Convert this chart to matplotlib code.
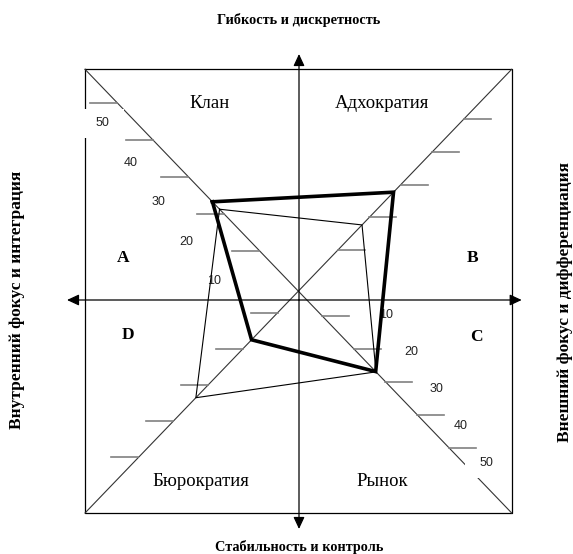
import numpy as np
import matplotlib.pyplot as plt
from matplotlib.patches import Rectangle

#_Data__________________________________________________________________________
# Diagonals in drawing order: top-left, top-right, bottom-right, bottom-left
quadrants = ['clan', 'adhocracy', 'market', 'hierarchy']
quadrant_names = ['Клан', 'Адхократия', 'Рынок', 'Бюрократия']
corner_letters = ['A', 'B', 'C', 'D']
scale_values = [10, 20, 30, 40, 50]
# Profiles (score on each diagonal)
profile_thick = [23.2, 27.7, 26.9, 17.5]
profile_thin = [21.2, 17.7, 27.0, 33.5]

axis_top = 'Гибкость и дискретность'
axis_bottom = 'Стабильность и контроль'
axis_left = 'Внутренний фокус и интеграция'
axis_right = 'Внешний фокус и дифференциация'

#_Layout (pixel units)__________________________________________________________
W, H = 573, 554
left, top, right, bottom = 85, 69.3, 511.7, 513
cx, cy = (left + right) / 2, (top + bottom) / 2
ratio = (right - left) / (bottom - top)
axis_x, axis_y = 299, 300
direction = {'clan': (-1, -1), 'adhocracy': (1, -1),
             'market': (1, 1), 'hierarchy': (-1, 1)}
# vertical distance from centre = offset + step * score
diag_scale = {'clan': (3.5, 3.7), 'adhocracy': (8.25, 3.275),
              'market': (-8.1, 3.29), 'hierarchy': (-14.7, 3.62)}
tick_len = 27
# number labels run along a line from score 10 to score 50
label_line = {'clan': ((214.5, 281.4), (102.9, 123.0)),
              'market': ((386.0, 315.2), (486.0, 463.0))}
mask_w, mask_h = 42, 29
name_pos = {'clan': (210, 104), 'adhocracy': (382, 104),
            'market': (382, 482), 'hierarchy': (201, 482)}
letter_pos = [(123, 258), (473, 258), (476, 337), (128, 335)]

serif = ['Liberation Serif', 'DejaVu Serif']
sans = ['Liberation Sans', 'DejaVu Sans']


def diag_point(q, v):
    off, step = diag_scale[q]
    d = off + step * v
    sx, sy = direction[q]
    return cx + sx * d * ratio, cy + sy * d


def label_point(q, v):
    (x0, y0), (x1, y1) = label_line[q]
    t = (v - 10) / 40
    return x0 + t * (x1 - x0), y0 + t * (y1 - y0)


fig = plt.figure(figsize=(W / 100, H / 100), dpi=100)
ax = fig.add_axes([0, 0, 1, 1])
ax.set_xlim(0, W)
ax.set_ylim(H, 0)
ax.axis('off')

# frame and diagonals
ax.plot([left, right, right, left, left], [top, top, bottom, bottom, top],
        color='k', lw=0.9, zorder=2)
ax.plot([left, right], [top, bottom], color='#333333', lw=0.8, zorder=2)
ax.plot([left, right], [bottom, top], color='#333333', lw=0.8, zorder=2)

# main axes with arrows
arrow_kw = dict(arrowstyle='-|>,head_length=0.6,head_width=0.28',
                mutation_scale=12, color='k', lw=0.9, shrinkA=0, shrinkB=0)
for tip in [(axis_x, 54), (axis_x, 529), (67, axis_y), (521.7, axis_y)]:
    ax.annotate('', xy=tip, xytext=(axis_x, axis_y), arrowprops=arrow_kw,
                zorder=3)

# scale ticks on the diagonals
for q in quadrants:
    sx = direction[q][0]
    for v in scale_values:
        x, y = diag_point(q, v)
        ax.plot([x, x + sx * tick_len], [y, y], color='#808080', lw=1.2,
                zorder=2)

# scale numbers; the outermost ones sit on a white patch cutting the lines
for q in label_line:
    for v in scale_values:
        x, y = label_point(q, v)
        if v == scale_values[-1]:
            ax.add_patch(Rectangle((x - mask_w / 2, y - mask_h / 2),
                                   mask_w, mask_h, fc='white', ec='none',
                                   zorder=3))
        ax.text(x, y, str(v), ha='center', va='center', fontsize=9,
                family=sans, color='#222222', zorder=4)

# profiles
def closed(profile):
    pts = [diag_point(q, v) for q, v in zip(quadrants, profile)]
    pts.append(pts[0])
    return np.array(pts)

thin = closed(profile_thin)
thick = closed(profile_thick)
ax.plot(thin[:, 0], thin[:, 1], color='k', lw=0.8, zorder=5)
ax.plot(thick[:, 0], thick[:, 1], color='k', lw=2.6, zorder=6,
        solid_joinstyle='miter')

# texts
for q, name in zip(quadrants, quadrant_names):
    ax.text(*name_pos[q], name, ha='center', va='center', fontsize=13.5,
            family=serif)
for (x, y), letter in zip(letter_pos, corner_letters):
    ax.text(x, y, letter, ha='center', va='center', fontsize=12.5,
            family=serif, fontweight='bold')

ax.text(axis_x, 20, axis_top, ha='center', va='center', fontsize=10.3,
        family=serif, fontweight='bold')
ax.text(axis_x, 547, axis_bottom, ha='center', va='center', fontsize=10.3,
        family=serif, fontweight='bold')
ax.text(17, 300, axis_left, ha='center', va='center', rotation=90,
        fontsize=12.5, family=serif, fontweight='bold')
ax.text(565, 302, axis_right, ha='center', va='center', rotation=90,
        fontsize=12.5, family=serif, fontweight='bold')

fig.savefig('out.png', dpi=100)
